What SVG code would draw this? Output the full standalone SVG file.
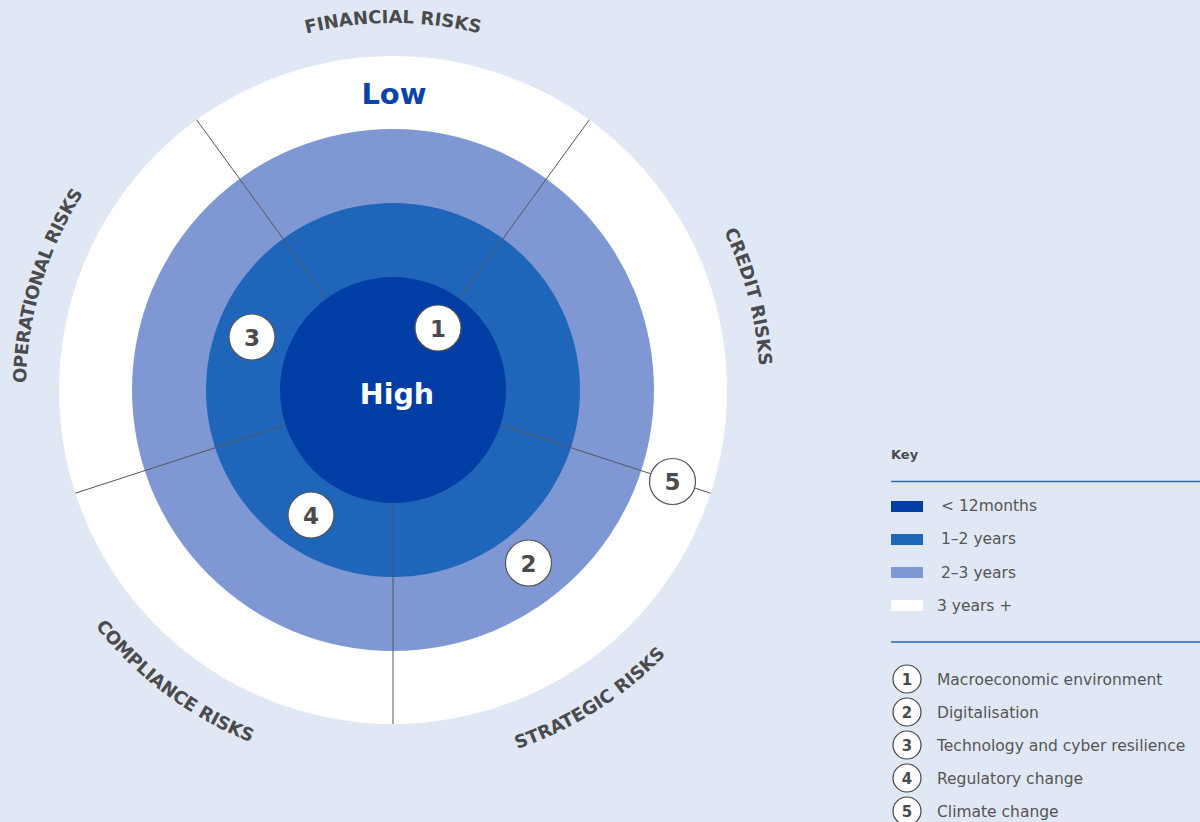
<svg xmlns="http://www.w3.org/2000/svg" width="1200" height="822" viewBox="0 0 1200 822">
<style>
.risk{font-family:"DejaVu Sans",sans-serif;font-weight:bold;font-size:18px;fill:#4b4b4d}
.badge circle{fill:#fff;stroke:#555;stroke-width:1.2}
.badge text{font-family:"DejaVu Sans",sans-serif;font-weight:bold;font-size:23px;fill:#4b4b4d;text-anchor:middle}
.lbadge circle{fill:#fff;stroke:#444;stroke-width:1.2}
.lbadge text{font-family:"DejaVu Sans",sans-serif;font-weight:bold;font-size:15px;fill:#4b4b4d;text-anchor:middle}
.lt{font-family:"DejaVu Sans",sans-serif;font-size:15.5px;fill:#555}
.conn line{stroke:#555;stroke-width:1}
</style>
<defs>
<path id="pFin" d="M157.1,108.9 A367,367 0 0 1 628.9,108.9"/>
<path id="pCred" d="M605.1,90.5 A367,367 0 0 1 724.8,546.9"/>
<path id="pOper" d="M55.9,535.2 A367,367 0 0 1 191.5,83.3"/>
<path id="pStrat" d="M343.4,766.7 A380,380 0 0 0 755.4,504.3"/>
<path id="pComp" d="M23,476.8 A380,380 0 0 0 414.2,769.4"/>
</defs>
<rect width="1200" height="822" fill="#e0e8f5"/>
<g id="rings">
<circle cx="393" cy="390" r="334" fill="#ffffff"/>
<circle cx="393" cy="390" r="261" fill="#7f98d4"/>
<circle cx="393" cy="390" r="187" fill="#1f66bb"/>
<circle cx="393" cy="390" r="113" fill="#003da5"/>
</g>
<g id="connectors" class="conn">
<line x1="326.6" y1="298.6" x2="196.7" y2="119.8"/>
<line x1="459.4" y1="298.6" x2="589.3" y2="119.8"/>
<line x1="500.5" y1="424.9" x2="710.7" y2="493.2"/>
<line x1="393" y1="503" x2="393" y2="724"/>
<line x1="285.5" y1="424.9" x2="75.3" y2="493.2"/>
</g>
<g id="ring-labels">
<text x="394" y="104" font-family="DejaVu Sans,sans-serif" font-weight="bold" font-size="29" fill="#0a44a8" text-anchor="middle">Low</text>
<text x="397" y="404" font-family="DejaVu Sans,sans-serif" font-weight="bold" font-size="28.5" fill="#ffffff" text-anchor="middle">High</text>
</g>
<g id="risk-labels">
<text class="risk"><textPath href="#pFin" startOffset="50%" text-anchor="middle">FINANCIAL RISKS</textPath></text>
<text class="risk"><textPath href="#pCred" startOffset="50%" text-anchor="middle">CREDIT RISKS</textPath></text>
<text class="risk" letter-spacing="-0.5"><textPath href="#pOper" startOffset="50%" text-anchor="middle">OPERATIONAL RISKS</textPath></text>
<text class="risk"><textPath href="#pStrat" startOffset="50%" text-anchor="middle">STRATEGIC RISKS</textPath></text>
<text class="risk" letter-spacing="-0.2"><textPath href="#pComp" startOffset="50%" text-anchor="middle">COMPLIANCE RISKS</textPath></text>
</g>
<g id="badge-1" class="badge"><circle cx="438" cy="328" r="23"/><text x="438" y="336.5">1</text></g>
<g id="badge-2" class="badge"><circle cx="528.5" cy="563" r="23"/><text x="528.5" y="571.5">2</text></g>
<g id="badge-3" class="badge"><circle cx="252" cy="337" r="23"/><text x="252" y="345.5">3</text></g>
<g id="badge-4" class="badge"><circle cx="311" cy="515" r="23"/><text x="311" y="523.5">4</text></g>
<g id="badge-5" class="badge"><circle cx="672.5" cy="481.5" r="23"/><text x="672.5" y="490">5</text></g>
<g id="legend">
<text x="891" y="459" font-family="DejaVu Sans,sans-serif" font-weight="bold" font-size="13" fill="#4b4b4d">Key</text>
<line x1="891" y1="481.5" x2="1200" y2="481.5" stroke="#2a6bbd" stroke-width="1.3"/>
<rect x="891" y="501" width="32" height="11" fill="#003da5"/>
<text class="lt" x="941" y="511">&lt; 12months</text>
<rect x="891" y="534" width="32" height="11" fill="#1f66bb"/>
<text class="lt" x="941" y="544">1–2 years</text>
<rect x="891" y="567" width="32" height="11" fill="#7f98d4"/>
<text class="lt" x="941" y="578">2–3 years</text>
<rect x="891" y="600" width="32" height="11" fill="#ffffff"/>
<text class="lt" x="937" y="611">3 years +</text>
<line x1="891" y1="642" x2="1200" y2="642" stroke="#2a6bbd" stroke-width="1.3"/>
<g class="lbadge"><circle cx="907" cy="679" r="14"/><text x="907" y="684.5">1</text></g>
<text class="lt" x="937" y="685">Macroeconomic environment</text>
<g class="lbadge"><circle cx="907" cy="712" r="14"/><text x="907" y="717.5">2</text></g>
<text class="lt" x="937" y="718">Digitalisation</text>
<g class="lbadge"><circle cx="907" cy="745" r="14"/><text x="907" y="750.5">3</text></g>
<text class="lt" x="937" y="751">Technology and cyber resilience</text>
<g class="lbadge"><circle cx="907" cy="778" r="14"/><text x="907" y="783.5">4</text></g>
<text class="lt" x="937" y="784">Regulatory change</text>
<g class="lbadge"><circle cx="907" cy="811" r="14"/><text x="907" y="816.5">5</text></g>
<text class="lt" x="937" y="817">Climate change</text>
</g>
</svg>
